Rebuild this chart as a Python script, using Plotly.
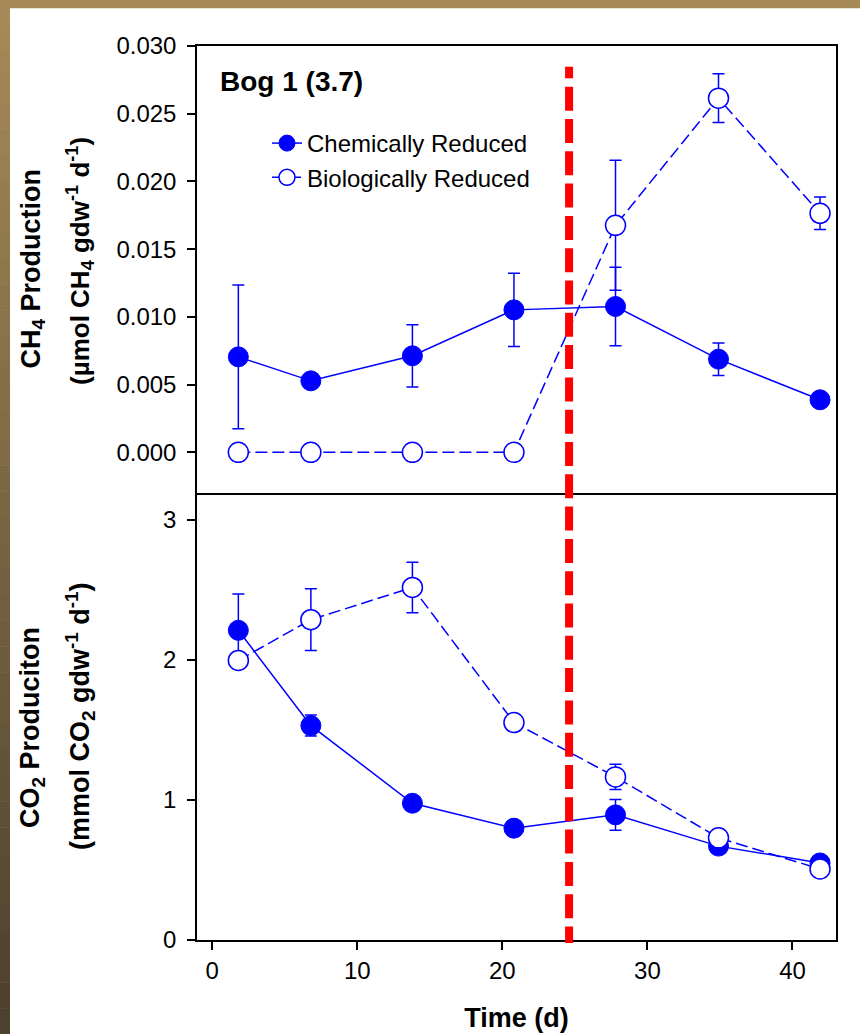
import plotly.graph_objects as go
from plotly.subplots import make_subplots

# ---------------- data ----------------
time_d = [1.8, 6.8, 13.8, 20.8, 27.8, 34.9, 41.9]

ch4_chem = [0.00705, 0.00528, 0.00713, 0.01052, 0.01077, 0.00688, 0.00388]
ch4_chem_err = [0.0053, 0.0004, 0.0023, 0.0027, 0.0029, 0.0012, 0.0003]
ch4_bio = [0.0, 0.0, 0.0, 0.0, 0.01676, 0.02615, 0.01765]
ch4_bio_err = [0.0, 0.0, 0.0, 0.0, 0.0048, 0.0018, 0.0012]

co2_chem = [2.21, 1.53, 0.976, 0.798, 0.893, 0.67, 0.55]
co2_chem_err = [0.26, 0.075, 0.03, 0.02, 0.11, 0.03, 0.02]
co2_bio = [1.995, 2.286, 2.516, 1.552, 1.164, 0.729, 0.507]
co2_bio_err = [0.03, 0.22, 0.18, 0.03, 0.09, 0.03, 0.02]

x_ticks = [0, 10, 20, 30, 40]
ch4_ticks = [0.000, 0.005, 0.010, 0.015, 0.020, 0.025, 0.030]
co2_ticks = [0, 1, 2, 3]
event_day = 24.6

series_names = ["Chemically Reduced", "Biologically Reduced"]
panel_label = "Bog 1 (3.7)"

# ---------------- layout helpers ----------------
W, H = 860, 1034
ML, MR, MT, MB = 197, 24, 46, 94
PW, PH = W - ML - MR, H - MT - MB


def px(x):
    return (x - ML) / PW


def py(y):
    return (H - MB - y) / PH


FONT = "Liberation Sans, Arial, sans-serif"
BLUE = "rgb(0,0,255)"

fig = make_subplots(rows=2, cols=1, shared_xaxes=True, vertical_spacing=0)


def add_pair(row, y_chem, e_chem, y_bio, e_bio, show):
    fig.add_trace(go.Scatter(
        x=time_d, y=y_chem, name=series_names[0], showlegend=show,
        mode="lines+markers",
        line=dict(color=BLUE, width=1.5),
        marker=dict(symbol="circle", size=20, color=BLUE, line=dict(color=BLUE, width=1)),
        error_y=dict(type="data", array=e_chem, visible=True, color=BLUE, thickness=1.5, width=6),
    ), row=row, col=1)
    fig.add_trace(go.Scatter(
        x=time_d, y=y_bio, name=series_names[1], showlegend=show,
        mode="lines+markers",
        line=dict(color=BLUE, width=1.5, dash="12px,5px"),
        marker=dict(symbol="circle", size=20, color="white", line=dict(color=BLUE, width=1.5)),
        error_y=dict(type="data", array=e_bio, visible=True, color=BLUE, thickness=1.5, width=6),
    ), row=row, col=1)


add_pair(1, ch4_chem, ch4_chem_err, ch4_bio, ch4_bio_err, True)
add_pair(2, co2_chem, co2_chem_err, co2_bio, co2_bio_err, False)

axis_common = dict(
    showline=True, linecolor="black", linewidth=1.5, mirror=True,
    ticks="outside", ticklen=8, tickwidth=1.5, tickcolor="black",
    showgrid=False, zeroline=False,
    tickfont=dict(family=FONT, size=24, color="black"),
)
fig.update_xaxes(range=[-1.05, 43.0], **axis_common)
fig.update_xaxes(tickvals=x_ticks, ticklabelstandoff=0, mirror=False, row=2, col=1,
                 title=dict(text="Time (d)", standoff=26,
                            font=dict(family=FONT, size=27, color="black", weight="bold")))
fig.update_xaxes(ticks="", showticklabels=False, row=1, col=1)
fig.update_yaxes(**axis_common)
fig.update_yaxes(range=[-0.0030, 0.030], tickvals=ch4_ticks, tickformat=".3f",
                 ticklabelstandoff=6, row=1, col=1)
fig.update_yaxes(range=[0, 3.19], tickvals=co2_ticks, ticklabelstandoff=6, row=2, col=1)

# ---------------- annotations ----------------
def tfont(size):
    return dict(family=FONT, size=size, color="black", weight="bold")


annos = [
    dict(text=panel_label, x=px(218), y=py(81), xanchor="left", yanchor="middle",
         font=tfont(28)),
    dict(text="CH<sub>4</sub> Production", x=px(32), y=py(268.5), textangle=-90,
         xanchor="center", yanchor="middle", font=tfont(27)),
    dict(text="(µmol CH<sub>4</sub> gdw<sup>-1</sup> d<sup>-1</sup>)", x=px(80), y=py(261),
         textangle=-90, xanchor="center", yanchor="middle", font=tfont(26)),
    dict(text="CO<sub>2</sub> Produciton", x=px(32), y=py(728), textangle=-90,
         xanchor="center", yanchor="middle", font=tfont(27)),
    dict(text="(mmol CO<sub>2</sub> gdw<sup>-1</sup> d<sup>-1</sup>)", x=px(80), y=py(716),
         textangle=-90, xanchor="center", yanchor="middle", font=tfont(27)),
]
for a in annos:
    fig.add_annotation(xref="paper", yref="paper", showarrow=False, **a)

# ---------------- shapes ----------------
shapes = []
# frame border: top band and left gradient band
shapes.append(dict(type="rect", xref="paper", yref="paper", x0=px(0), x1=px(W),
                   y0=py(0), y1=py(8.3), fillcolor="#A68A57", line=dict(width=0), layer="below"))
n = 40
c0 = (166, 138, 87)
c1 = (76, 64, 46)
for i in range(n):
    t = i / (n - 1)
    col = tuple(int(round(c0[k] + (c1[k] - c0[k]) * t)) for k in range(3))
    shapes.append(dict(type="rect", xref="paper", yref="paper", x0=px(0), x1=px(10),
                       y0=py(H * i / n), y1=py(H * (i + 1) / n + 0.5),
                       fillcolor="rgb(%d,%d,%d)" % col, line=dict(width=0), layer="below"))
# red dashed event line
shapes.append(dict(type="line", xref="x", yref="paper", x0=event_day, x1=event_day,
                   y0=py(66.7), y1=py(78.3), line=dict(color="red", width=8)))
shapes.append(dict(type="line", xref="x", yref="paper", x0=event_day, x1=event_day,
                   y0=py(86.7), y1=py(943), line=dict(color="red", width=8, dash="24px,8.3px")))

fig.update_layout(
    width=W, height=H,
    margin=dict(l=ML, r=MR, t=MT, b=MB, autoexpand=False),
    paper_bgcolor="white", plot_bgcolor="white",
    font=dict(family=FONT, color="black"),
    showlegend=True,
    legend=dict(x=px(267), y=py(121), xanchor="left", yanchor="top",
                bgcolor="rgba(0,0,0,0)", font=dict(family=FONT, size=24, color="black"),
                itemwidth=30, tracegroupgap=0),
    shapes=shapes,
)

fig.write_html("out.html", config={"displayModeBar": False},
               post_script="document.body.style.margin='0px';document.body.style.overflow='hidden';")
